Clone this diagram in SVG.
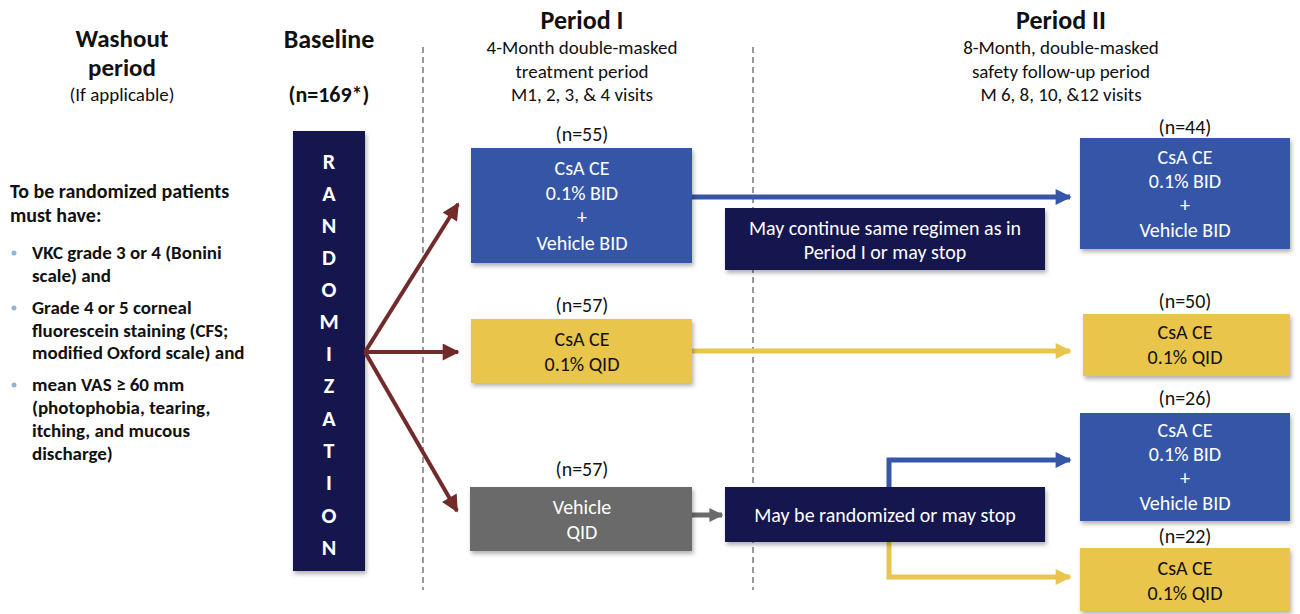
<svg xmlns="http://www.w3.org/2000/svg" width="1300" height="614" viewBox="0 0 1300 614">
<defs>
<style>
text{font-family:Carlito,Lato,"Liberation Sans",sans-serif;}
.h{font-weight:bold;font-size:26px;fill:#111;text-anchor:middle;}
.sub{font-size:19px;fill:#111;text-anchor:middle;}
.nb{font-weight:bold;font-size:22px;fill:#111;text-anchor:middle;}
.lt{font-weight:bold;font-size:20px;fill:#111;}
.lb{font-weight:bold;font-size:19px;fill:#111;}
.bul{fill:#8fb3d9;}
.rl{font-weight:bold;font-size:22px;fill:#fff;text-anchor:middle;}
.bt{font-size:20px;fill:#fff;text-anchor:middle;}
.dt{font-size:20px;fill:#111;text-anchor:middle;}
.n{font-size:20px;fill:#111;text-anchor:middle;}
.blue{fill:#3656a7;}
.yel{fill:#e9c54c;}
.gray{fill:#6b6b6b;}
.navy{fill:#12134f;}
.dash{stroke:#555;stroke-width:1.2;stroke-dasharray:6,4;fill:none;}
</style>
<filter id="sh" x="-5%" y="-5%" width="115%" height="120%">
<feDropShadow dx="1.5" dy="3" stdDeviation="2" flood-color="#000" flood-opacity="0.3"/>
</filter>
<marker id="ar" viewBox="0 0 10 10" refX="9" refY="5" markerWidth="20" markerHeight="17" markerUnits="userSpaceOnUse" orient="auto"><path d="M0,0 L10,5 L0,10 Z" fill="#722b2b"/></marker>
<marker id="ab" viewBox="0 0 10 10" refX="9" refY="5" markerWidth="18" markerHeight="16" markerUnits="userSpaceOnUse" orient="auto"><path d="M0,0 L10,5 L0,10 Z" fill="#3656a7"/></marker>
<marker id="ay" viewBox="0 0 10 10" refX="9" refY="5" markerWidth="18" markerHeight="16" markerUnits="userSpaceOnUse" orient="auto"><path d="M0,0 L10,5 L0,10 Z" fill="#e9c54c"/></marker>
<marker id="ag" viewBox="0 0 10 10" refX="9" refY="5" markerWidth="14" markerHeight="14" markerUnits="userSpaceOnUse" orient="auto"><path d="M0,0 L10,5 L0,10 Z" fill="#6b6b6b"/></marker>
</defs>
<rect width="1300" height="614" fill="#fff"/>

<g id="headers">
<text class="h" x="122" y="47" style="font-size:25px">Washout</text>
<text class="h" x="122" y="76" style="font-size:25px">period</text>
<text class="sub" x="122" y="101">(If applicable)</text>
<text class="h" x="329" y="48">Baseline</text>
<text class="nb" x="329" y="102">(n=169*)</text>
<text class="h" x="582" y="29">Period I</text>
<text class="sub" x="582" y="54">4-Month double-masked</text>
<text class="sub" x="582" y="78">treatment period</text>
<text class="sub" x="582" y="101">M1, 2, 3, &amp; 4 visits</text>
<text class="h" x="1061" y="29">Period II</text>
<text class="sub" x="1061" y="54">8-Month, double-masked</text>
<text class="sub" x="1061" y="78">safety follow-up period</text>
<text class="sub" x="1061" y="101">M 6, 8, 10, &amp;12 visits</text>
</g>

<g id="dividers">
<line class="dash" x1="423" y1="47" x2="423" y2="590"/>
<line class="dash" x1="753" y1="47" x2="753" y2="590"/>
</g>

<g id="criteria">
<text class="lt" x="10" y="198">To be randomized patients</text>
<text class="lt" x="10" y="222">must have:</text>
<circle class="bul" cx="14" cy="253" r="2.5"/>
<text class="lb" x="32" y="259">VKC grade 3 or 4 (Bonini</text>
<text class="lb" x="32" y="282">scale) and</text>
<circle class="bul" cx="14" cy="308" r="2.5"/>
<text class="lb" x="32" y="314">Grade 4 or 5 corneal</text>
<text class="lb" x="32" y="337">fluorescein staining (CFS;</text>
<text class="lb" x="32" y="359">modified Oxford scale) and</text>
<circle class="bul" cx="14" cy="385" r="2.5"/>
<text class="lb" x="32" y="391">mean VAS ≥ 60 mm</text>
<text class="lb" x="32" y="414">(photophobia, tearing,</text>
<text class="lb" x="32" y="437">itching, and mucous</text>
<text class="lb" x="32" y="460">discharge)</text>
</g>

<g id="randomization">
<rect class="navy" x="293" y="131" width="72" height="440" filter="url(#sh)"/>
<text class="rl" x="329" y="169">R</text>
<text class="rl" x="329" y="201">A</text>
<text class="rl" x="329" y="233">N</text>
<text class="rl" x="329" y="265">D</text>
<text class="rl" x="329" y="297">O</text>
<text class="rl" x="329" y="329">M</text>
<text class="rl" x="329" y="361">I</text>
<text class="rl" x="329" y="393">Z</text>
<text class="rl" x="329" y="426">A</text>
<text class="rl" x="329" y="458">T</text>
<text class="rl" x="329" y="490">I</text>
<text class="rl" x="329" y="523">O</text>
<text class="rl" x="329" y="555">N</text>
</g>

<g id="connectors" fill="none">
<line x1="365" y1="352" x2="458" y2="204" stroke="#722b2b" stroke-width="4" marker-end="url(#ar)"/>
<line x1="365" y1="352" x2="458" y2="352" stroke="#722b2b" stroke-width="4" marker-end="url(#ar)"/>
<line x1="365" y1="352" x2="457" y2="511" stroke="#722b2b" stroke-width="4" marker-end="url(#ar)"/>
<line x1="692" y1="197" x2="1070" y2="197" stroke="#3656a7" stroke-width="5" marker-end="url(#ab)"/>
<line x1="692" y1="351" x2="1070" y2="351" stroke="#e9c54c" stroke-width="5" marker-end="url(#ay)"/>
<line x1="692" y1="515" x2="722" y2="515" stroke="#6b6b6b" stroke-width="5" marker-end="url(#ag)"/>
<polyline points="889,487 889,460 1070,460" stroke="#3656a7" stroke-width="5" marker-end="url(#ab)"/>
<polyline points="889,541 889,577 1070,577" stroke="#e9c54c" stroke-width="5" marker-end="url(#ay)"/>
</g>

<g id="p1-blue">
<text class="n" x="582" y="141">(n=55)</text>
<rect class="blue" x="471" y="148" width="221" height="115" filter="url(#sh)"/>
<text class="bt" x="582" y="175">CsA CE</text>
<text class="bt" x="582" y="200">0.1% BID</text>
<text class="bt" x="582" y="224">+</text>
<text class="bt" x="582" y="250">Vehicle BID</text>
</g>
<g id="p1-yellow">
<text class="n" x="582" y="312">(n=57)</text>
<rect class="yel" x="471" y="319" width="221" height="64" filter="url(#sh)"/>
<text class="dt" x="582" y="346">CsA CE</text>
<text class="dt" x="582" y="371">0.1% QID</text>
</g>
<g id="p1-gray">
<text class="n" x="582" y="476">(n=57)</text>
<rect class="gray" x="470" y="487" width="222" height="64" filter="url(#sh)"/>
<text class="bt" x="582" y="514">Vehicle</text>
<text class="bt" x="582" y="539">QID</text>
</g>

<g id="continue-note">
<rect class="navy" x="725" y="208" width="320" height="62" filter="url(#sh)"/>
<text class="bt" x="885" y="235">May continue same regimen as in</text>
<text class="bt" x="885" y="259">Period I or may stop</text>
</g>
<g id="randomize-note">
<rect class="navy" x="725" y="487" width="320" height="55" filter="url(#sh)"/>
<text class="bt" x="885" y="522">May be randomized or may stop</text>
</g>

<g id="p2-blue1">
<text class="n" x="1185" y="134">(n=44)</text>
<rect class="blue" x="1080" y="138" width="210" height="111" filter="url(#sh)"/>
<text class="bt" x="1185" y="164">CsA CE</text>
<text class="bt" x="1185" y="188">0.1% BID</text>
<text class="bt" x="1185" y="212">+</text>
<text class="bt" x="1185" y="237">Vehicle BID</text>
</g>
<g id="p2-yellow1">
<text class="n" x="1185" y="308">(n=50)</text>
<rect class="yel" x="1083" y="314" width="207" height="62" filter="url(#sh)"/>
<text class="dt" x="1185" y="339">CsA CE</text>
<text class="dt" x="1185" y="364">0.1% QID</text>
</g>
<g id="p2-blue2">
<text class="n" x="1185" y="405">(n=26)</text>
<rect class="blue" x="1080" y="413" width="210" height="108" filter="url(#sh)"/>
<text class="bt" x="1185" y="437">CsA CE</text>
<text class="bt" x="1185" y="461">0.1% BID</text>
<text class="bt" x="1185" y="485">+</text>
<text class="bt" x="1185" y="510">Vehicle BID</text>
</g>
<g id="p2-yellow2">
<text class="n" x="1185" y="543">(n=22)</text>
<rect class="yel" x="1080" y="548" width="210" height="63" filter="url(#sh)"/>
<text class="dt" x="1185" y="575">CsA CE</text>
<text class="dt" x="1185" y="600">0.1% QID</text>
</g>
</svg>
